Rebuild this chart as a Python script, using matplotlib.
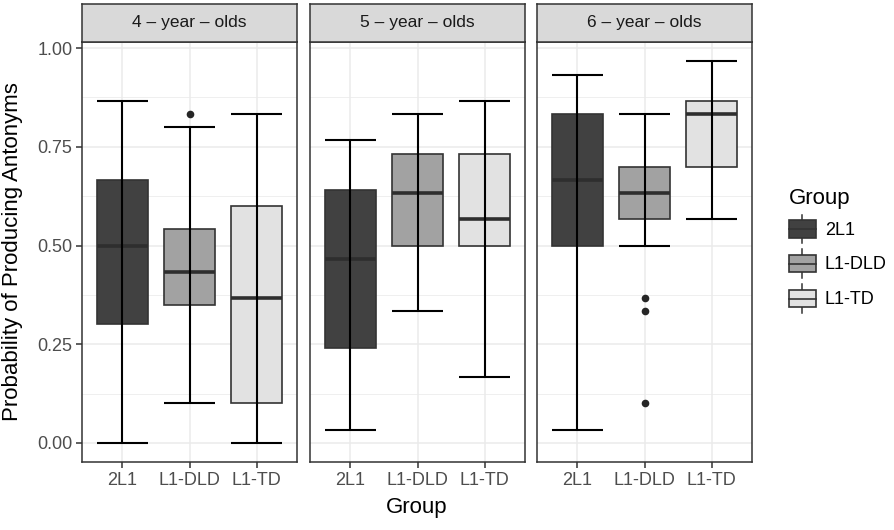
import matplotlib
matplotlib.use('Agg')
import matplotlib.pyplot as plt
from matplotlib.patches import Rectangle
from matplotlib.lines import Line2D
from matplotlib.legend_handler import HandlerBase

plt.rcParams['font.family'] = ['Liberation Sans', 'DejaVu Sans']

# ---- data ----
ages = ["4 \u2013 year \u2013 olds", "5 \u2013 year \u2013 olds", "6 \u2013 year \u2013 olds"]
groups = ["2L1", "L1-DLD", "L1-TD"]
fills = ["#414141", "#a2a2a2", "#e2e2e2"]

whislo = [[0.000, 0.100, 0.000], [0.033, 0.333, 0.167], [0.033, 0.500, 0.567]]
q1 =     [[0.300, 0.350, 0.100], [0.241, 0.500, 0.500], [0.500, 0.567, 0.700]]
med =    [[0.500, 0.433, 0.367], [0.467, 0.633, 0.567], [0.667, 0.633, 0.833]]
q3 =     [[0.667, 0.542, 0.600], [0.641, 0.733, 0.733], [0.833, 0.700, 0.867]]
whishi = [[0.867, 0.800, 0.833], [0.767, 0.833, 0.867], [0.933, 0.833, 0.967]]
fliers = [[[], [0.833], []], [[], [], []], [[], [0.367, 0.333, 0.100], []]]

yticks = [0.00, 0.25, 0.50, 0.75, 1.00]
yminor = [0.125, 0.375, 0.625, 0.875]
ytick_labels = ["0.00", "0.25", "0.50", "0.75", "1.00"]

# ---- layout ----
W, H = 894, 530
fig = plt.figure(figsize=(W / 100, H / 100), dpi=100)


def fax(l, t, r, b):
    return fig.add_axes([l / W, 1 - b / H, (r - l) / W, (b - t) / H])


panels = [(82, 297), (310, 525), (537, 752)]
pos = [1, 2, 3]
bw = 0.75
edge = '#333333'

for p, (l, r) in enumerate(panels):
    ax = fax(l, 42, r, 462)
    ax.set_xlim(0.4, 3.6)
    ax.set_ylim(-0.0483, 1.0155)
    ax.set_yticks(yticks)
    ax.set_yticks(yminor, minor=True)
    ax.set_yticklabels(ytick_labels)
    ax.set_axisbelow(True)
    ax.grid(which='major', color='#ebebeb', lw=1.1)
    ax.grid(which='minor', axis='y', color='#ebebeb', lw=0.55)

    stats = []
    for g in range(3):
        stats.append(dict(med=med[p][g], q1=q1[p][g], q3=q3[p][g],
                          whislo=whislo[p][g], whishi=whishi[p][g],
                          fliers=fliers[p][g]))
    bp = ax.bxp(stats, positions=pos, widths=bw, patch_artist=True,
                showcaps=False,
                boxprops=dict(edgecolor=edge, linewidth=1.2),
                medianprops=dict(color='#2e2e2e', linewidth=2.6),
                whiskerprops=dict(visible=False),
                flierprops=dict(marker='o', markerfacecolor='#262626',
                                markeredgecolor='none', markersize=5.5))
    for patch, fc in zip(bp['boxes'], fills):
        patch.set_facecolor(fc)
    lo = whislo[p]
    hi = whishi[p]
    ax.vlines(pos, lo, hi, color='black', lw=1.5, zorder=4)
    ax.hlines(lo, [x - bw / 2 for x in pos], [x + bw / 2 for x in pos], color='black', lw=1.5, zorder=4)
    ax.hlines(hi, [x - bw / 2 for x in pos], [x + bw / 2 for x in pos], color='black', lw=1.5, zorder=4)

    ax.set_xticks(pos)
    ax.set_xticklabels(groups)
    for s in ax.spines.values():
        s.set_color(edge)
        s.set_linewidth(1.1)
    ax.tick_params(axis='both', which='major', direction='out', length=4, width=1.1,
                   color=edge, labelsize=13, labelcolor='#4d4d4d', pad=3)
    ax.tick_params(axis='y', which='minor', length=0)
    if p > 0:
        ax.tick_params(axis='y', which='both', left=False, labelleft=False)

    sax = fax(l, 4, r, 42)
    sax.set_facecolor('#d9d9d9')
    sax.set_xticks([])
    sax.set_yticks([])
    for s in sax.spines.values():
        s.set_color(edge)
        s.set_linewidth(1.1)
    sax.text(0.5, 0.5, ages[p], ha='center', va='center', fontsize=12.5, color='#1a1a1a',
             transform=sax.transAxes)

fig.text(13 / W, 1 - 252 / H, "Probability of Producing Antonyms", rotation=90,
         ha='center', va='center', fontsize=16)
fig.text(417 / W, 1 - 508 / H, "Group", ha='center', va='center', fontsize=16)


class BoxHandler(HandlerBase):
    def create_artists(self, legend, orig_handle, xd, yd, width, height, fontsize, trans):
        fc = orig_handle.get_facecolor()
        x0, y0 = -xd, -yd
        bh = height * 0.6
        cy = y0 + height / 2
        wl = Line2D([x0 + width / 2] * 2, [y0, y0 + height], color=edge, lw=1.1, transform=trans)
        rect = Rectangle((x0, cy - bh / 2), width, bh, facecolor=fc, edgecolor=edge,
                         lw=1.2, transform=trans)
        ml = Line2D([x0, x0 + width], [cy, cy], color=edge, lw=1.2, transform=trans)
        return [wl, rect, ml]


handles = [Rectangle((0, 0), 1, 1, facecolor=fc) for fc in fills]
leg = fig.legend(handles, groups, title='Group', loc='upper left',
                 bbox_to_anchor=(785 / W, 1 - 184 / H), frameon=False,
                 handler_map={Rectangle: BoxHandler()},
                 handlelength=1.5, handleheight=2.08, labelspacing=0.33,
                 handletextpad=0.5, fontsize=13, title_fontsize=16,
                 alignment='left', borderpad=0.2, borderaxespad=0)

fig.savefig('out.png', dpi=100)
